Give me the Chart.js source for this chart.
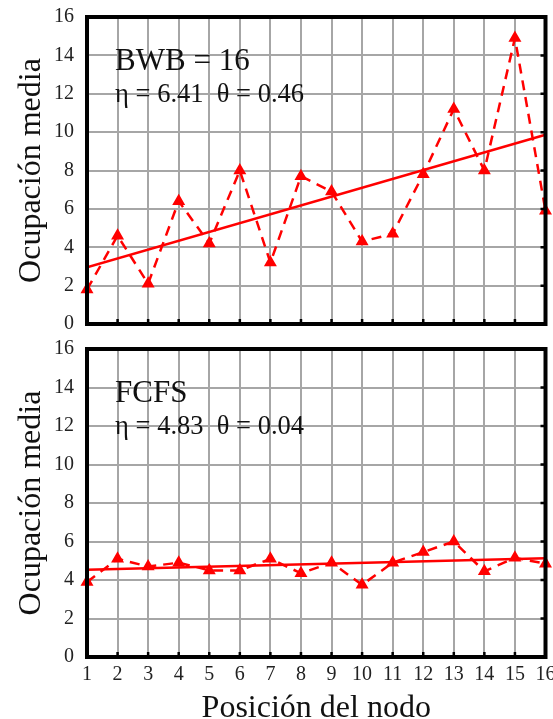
<!DOCTYPE html>
<html>
<head>
<meta charset="utf-8">
<script src="https://cdn.jsdelivr.net/npm/chart.js@4/dist/chart.umd.min.js"></script>
<style>
  html, body { margin: 0; background: #fff; overflow: hidden; }
  .box { position: absolute; left: 0; }
</style>
</head>
<body>
<div class="box" style="top:0"><canvas id="topChart" width="553" height="340"></canvas></div>
<div class="box" style="top:340px"><canvas id="bottomChart" width="553" height="385"></canvas></div>
<script>
// node positions 1..16
const nodes = [1, 2, 3, 4, 5, 6, 7, 8, 9, 10, 11, 12, 13, 14, 15, 16];

// BWB = 16, mean occupancy per node
const bwbValues = [1.8, 4.6, 2.1, 6.4, 4.2, 8.0, 3.2, 7.7, 6.9, 4.3, 4.7, 7.8, 11.2, 8.0, 14.9, 5.9];
// FCFS, mean occupancy per node
const fcfsValues = [3.9, 5.1, 4.7, 4.9, 4.5, 4.5, 5.1, 4.35, 4.9, 3.75, 4.9, 5.45, 6.0, 4.45, 5.15, 4.85];

// fitted lines (value at first and last node)
const trendX = [1, 16];
const bwbTrend = [2.96, 9.86];
const fcfsTrend = [4.53, 5.13];

const yTicks = [0, 2, 4, 6, 8, 10, 12, 14, 16];

const bwbLabels = ["BWB = 16", "\u03b7 = 6.41  \u03b8 = 0.46"];
const fcfsLabels = ["FCFS", "\u03b7 = 4.83  \u03b8 = 0.04"];

const RED = '#ff0000';
const SERIF = '"Liberation Serif", "Times New Roman", serif';

function pts(xs, ys) {
    return xs.map((x, i) => ({ x: x, y: ys[i] }));
}

// frame, inner tick marks and the text boxes
const framePlugin = {
    id: 'frame',
    afterDraw(chart) {
        const ctx = chart.ctx;
        const a = chart.chartArea;
        const xs = chart.scales.x, ys = chart.scales.y;
        ctx.save();
        ctx.strokeStyle = '#000';
        ctx.lineWidth = 2.5;
        ctx.beginPath();
        nodes.forEach(n => {
            const px = xs.getPixelForValue(n);
            ctx.moveTo(px, a.bottom);
            ctx.lineTo(px, a.bottom - 5);
        });
        yTicks.forEach(v => {
            const py = ys.getPixelForValue(v);
            ctx.moveTo(a.right, py);
            ctx.lineTo(a.right - 5, py);
        });
        ctx.stroke();
        ctx.lineWidth = 4;
        ctx.strokeRect(a.left, a.top, a.right - a.left, a.bottom - a.top);

        const lines = chart.options.plugins.frame.lines;
        ctx.fillStyle = '#111';
        ctx.textAlign = 'left';
        ctx.textBaseline = 'middle';
        ctx.font = '31px ' + SERIF;
        ctx.fillText(lines[0], xs.getPixelForValue(1.92), ys.getPixelForValue(13.65));
        ctx.font = '26.5px ' + SERIF;
        ctx.fillText(lines[1], xs.getPixelForValue(1.92), ys.getPixelForValue(11.95));
        ctx.restore();
    }
};

const gridStyle = { color: '#a6a6a6', lineWidth: 2, borderDash: [1, 1], drawTicks: false, tickLength: 0 };

function makeChart(id, values, trend, lines, showX, pad) {
    return new Chart(document.getElementById(id), {
        type: 'scatter',
        data: {
            datasets: [{
                data: pts(nodes, values),
                showLine: true,
                borderColor: RED,
                backgroundColor: RED,
                borderWidth: 2.5,
                borderDash: [10, 7],
                pointStyle: 'triangle',
                pointRadius: 5,
                clip: false
            }, {
                data: pts(trendX, trend),
                showLine: true,
                borderColor: RED,
                borderWidth: 2.5,
                pointRadius: 0
            }]
        },
        options: {
            responsive: false,
            animation: false,
            layout: { padding: pad },
            plugins: {
                legend: { display: false },
                tooltip: { enabled: false },
                frame: { lines: lines }
            },
            scales: {
                x: {
                    type: 'linear',
                    min: 1, max: 16,
                    afterBuildTicks: s => { s.ticks = nodes.map(v => ({ value: v })); },
                    afterFit: s => { s.paddingLeft = 0; s.paddingRight = 0; },
                    grid: gridStyle,
                    border: { display: false },
                    ticks: {
                        display: showX,
                        padding: 8,
                        color: '#222',
                        font: { family: SERIF, size: 20, lineHeight: 1 },
                        maxRotation: 0,
                        autoSkip: false
                    },
                    title: {
                        display: showX,
                        text: 'Posición del nodo',
                        color: '#111',
                        padding: 0,
                        font: { family: SERIF, size: 32, lineHeight: 1 }
                    }
                },
                y: {
                    min: 0, max: 16,
                    afterBuildTicks: s => { s.ticks = yTicks.map(v => ({ value: v })); },
                    afterFit: s => { s.width = 87; s.paddingTop = 0; s.paddingBottom = 0; },
                    grid: gridStyle,
                    border: { display: false },
                    ticks: {
                        padding: 13,
                        color: '#222',
                        font: { family: SERIF, size: 20, lineHeight: 1 }
                    },
                    title: {
                        display: true,
                        text: 'Ocupación media',
                        color: '#111',
                        padding: { top: 12, bottom: 0 },
                        font: { family: SERIF, size: 32, lineHeight: 1.2 }
                    }
                }
            }
        },
        plugins: [framePlugin]
    });
}

makeChart('topChart', bwbValues, bwbTrend, bwbLabels, false, { top: 17, right: 5, bottom: 16, left: 0 });
makeChart('bottomChart', fcfsValues, fcfsTrend, fcfsLabels, true, { top: 9, right: 5, bottom: 0, left: 0 });
</script>
</body>
</html>
